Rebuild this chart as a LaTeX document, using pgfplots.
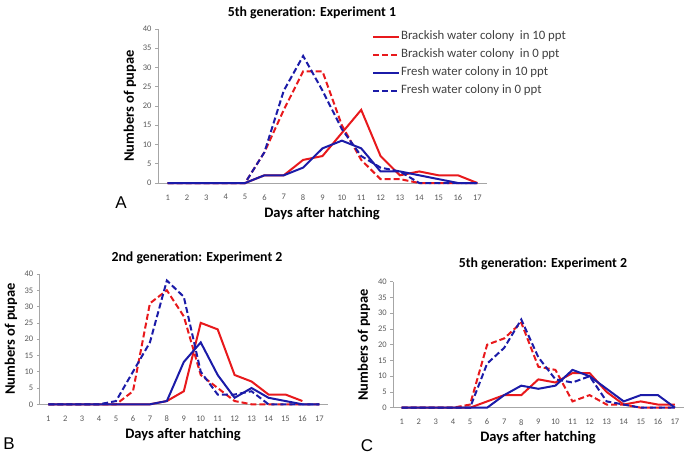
\documentclass[border=0pt]{standalone}
\usepackage{fontspec}
\setmainfont{Carlito}
\newfontfamily\arialfont{Liberation Sans}
\usepackage{pgfplots}
\usepackage{pgfplotstable}
\pgfplotsset{compat=1.18}

\definecolor{lred}{HTML}{E8191C}
\definecolor{lblue}{HTML}{1B1BA8}
\definecolor{axgray}{HTML}{A6A6A6}
\definecolor{txgray}{HTML}{595959}

% day, brackish 10 ppt, brackish 0 ppt, fresh 10 ppt, fresh 0 ppt
\pgfplotstableread{
day br10 br0 fw10 fw0
1  0  0  0  0
2  0  0  0  0
3  0  0  0  0
4  0  0  0  0
5  0  0  0  0
6  2  8  2  8
7  2  19 2  24
8  6  29 4  33
9  7  29 9  24
10 13 15 11 14
11 19 6  9  7
12 7  1  3  4
13 2  1  3  3
14 3  0  2  0
15 2  0  1  0
16 2  0  0  0
17 0  0  0  0
}\expA

\pgfplotstableread{
day br10 br0 fw10 fw0
1  0  0  0  0
2  0  0  0  0
3  0  0  0  0
4  0  0  0  0
5  0  0  0  1
6  0  4  0  10
7  0  31 0  19
8  1  35 1  38
9  4  27 13 33
10 25 9  19 10
11 23 5  9  3
12 9  1  2  3
13 7  0  5  4
14 3  0  2  0
15 3  0  1  0
16 1  0  0  0
17 nan 0 0  0
}\expB

\pgfplotstableread{
day br10 br0 fw10 fw0
1  0  0  0  0
2  0  0  0  0
3  0  0  0  0
4  0  0  0  0
5  0  1  0  0
6  2  20 0  14
7  4  22 4  19
8  4  27 7  28
9  9  13 6  16
10 8  12 7  9
11 11 2  12 8
12 11 4  10 10
13 5  1  6  2
14 1  1  2  1
15 2  0  4  0
16 1  0  4  0
17 1  0  0  0
}\expC

\pgfplotsset{
  panel/.style={
    scale only axis,
    xmin=0.5, xmax=17.5, ymin=0, ymax=40,
    xtick={1,...,17}, ytick={0,5,...,40},
    axis x line=bottom, axis y line=left,
    axis line style={color=axgray, line width=0.6pt, -},
    xtick style={draw=none},
    ytick style={color=axgray, line width=0.6pt},
    major tick length=3pt, tick align=outside,
    tick label style={font=\fontsize{8.5}{10}\selectfont, color=txgray},
    xticklabel style={yshift=-5pt},
    /pgf/number format/assume math mode=true,
    unbounded coords=jump,
    clip=false,
  },
  s10/.style={line width=2pt},
  s0/.style={line width=2pt, dash pattern=on 6pt off 3pt},
}
\tikzset{
  ttl/.style={font=\fontsize{13.8}{15}\selectfont\bfseries, text=black},
  lab/.style={font=\fontsize{14.5}{16}\selectfont\bfseries, text=black},
  let/.style={font=\fontsize{17}{19}\selectfont\arialfont, text=black},
}

\begin{document}
\begin{tikzpicture}
\useasboundingbox (0pt,0pt) rectangle (689pt,-455pt);

% Panel A
\begin{axis}[panel, at={(158pt,-183pt)}, anchor=south west,
  width=329pt, height=154pt,
  legend style={at={(axis description cs:0.65,0.99)}, anchor=north west,
    draw=none, fill=none, inner sep=0pt, row sep=6pt,
    font=\fontsize{12.8}{14}\selectfont, text=black!75,
    nodes={inner sep=1pt, text height=8pt, text depth=2pt}},
  legend cell align=left,
  legend image code/.code={\draw[#1] (0pt,0pt) -- (26pt,0pt);},
]
\addplot[s10, lred] table[x=day, y=br10] {\expA};
\addlegendentry{Brackish water colony\ \ in 10 ppt}
\addplot[s0, lred] table[x=day, y=br0] {\expA};
\addlegendentry{Brackish water colony\ \ in 0 ppt}
\addplot[s10, lblue] table[x=day, y=fw10] {\expA};
\addlegendentry{Fresh water colony in 10 ppt}
\addplot[s0, lblue] table[x=day, y=fw0] {\expA};
\addlegendentry{Fresh water colony in 0 ppt}
\end{axis}
\node[ttl] at (312pt,-13pt) {5th generation: Experiment 1};
\node[lab] at (322pt,-214pt) {Days after hatching};
\node[lab, rotate=90] at (130pt,-106pt) {Numbers of pupae};
\node[let] at (121pt,-203pt) {A};

% Panel B
\begin{axis}[panel, at={(39.8pt,-404.3pt)}, anchor=south west,
  width=288pt, height=130.3pt]
\addplot[s10, lred] table[x=day, y=br10] {\expB};
\addplot[s0, lred] table[x=day, y=br0] {\expB};
\addplot[s10, lblue] table[x=day, y=fw10] {\expB};
\addplot[s0, lblue] table[x=day, y=fw0] {\expB};
\end{axis}
\node[ttl] at (197pt,-258pt) {2nd generation: Experiment 2};
\node[lab] at (183pt,-435pt) {Days after hatching};
\node[lab, rotate=90] at (11pt,-339pt) {Numbers of pupae};
\node[let] at (9pt,-444pt) {B};

% Panel C
\begin{axis}[panel, at={(393.2pt,-407.7pt)}, anchor=south west,
  width=290.3pt, height=126pt]
\addplot[s10, lred] table[x=day, y=br10] {\expC};
\addplot[s0, lred] table[x=day, y=br0] {\expC};
\addplot[s10, lblue] table[x=day, y=fw10] {\expC};
\addplot[s0, lblue] table[x=day, y=fw0] {\expC};
\end{axis}
\node[ttl] at (543pt,-264pt) {5th generation: Experiment 2};
\node[lab] at (538pt,-438pt) {Days after hatching};
\node[lab, rotate=90] at (364pt,-345pt) {Numbers of pupae};
\node[let] at (367pt,-446pt) {C};
\end{tikzpicture}
\end{document}
